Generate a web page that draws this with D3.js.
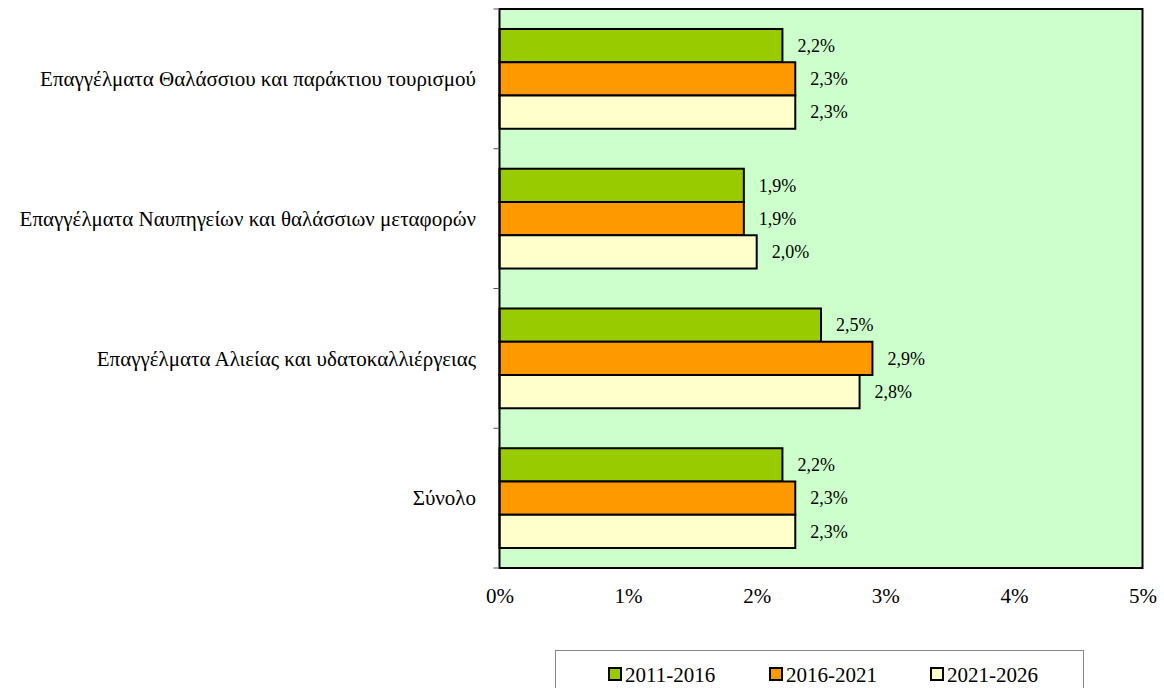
<!DOCTYPE html>
<html>
<head>
<meta charset="utf-8">
<script src="https://cdn.jsdelivr.net/npm/d3@7"></script>
<style>
  html, body { margin: 0; padding: 0; background: #fff; }
  svg text { font-family: 'Liberation Serif', 'DejaVu Serif', serif; }
</style>
</head>
<body>
<svg id="chart" width="1164" height="688"></svg>
<script>
// Occupational groups (top to bottom)
const categories = [
  "Επαγγέλματα Θαλάσσιου και παράκτιου τουρισμού",
  "Επαγγέλματα Ναυπηγείων και θαλάσσιων μεταφορών",
  "Επαγγέλματα Αλιείας και υδατοκαλλιέργειας",
  "Σύνολο"
];
// Periods shown as series
const seriesNames = ["2011-2016", "2016-2021", "2021-2026"];
// Annual rate (%) per period, one array per series, in category order
const values2011_2016 = [2.2, 1.9, 2.5, 2.2];
const values2016_2021 = [2.3, 1.9, 2.9, 2.3];
const values2021_2026 = [2.3, 2.0, 2.8, 2.3];
// Value axis ticks (%)
const xTicks = [0, 1, 2, 3, 4, 5];

const seriesValues = [values2011_2016, values2016_2021, values2021_2026];
const colors = ["#99CC00", "#FF9900", "#FFFFCC"];
const FONT = "'Liberation Serif', 'DejaVu Serif', serif";

const svg = d3.select("#chart");
const plot = { left: 499.5, right: 1142.5, top: 9, bottom: 568 };

const x = d3.scaleLinear().domain([0, 5]).range([plot.left, plot.right]);
const y = d3.scaleBand().domain(categories).range([plot.top, plot.bottom])
  .paddingInner(0.286).paddingOuter(0.143);
const ySeries = d3.scaleBand().domain(d3.range(seriesNames.length)).range([0, y.bandwidth()]);

// Plot background
svg.append("rect")
  .attr("x", plot.left).attr("y", plot.top)
  .attr("width", plot.right - plot.left).attr("height", plot.bottom - plot.top)
  .attr("fill", "#CCFFCC");

// Bars with value labels
const fmt = v => d3.format(".1f")(v).replace(".", ",") + "%";
categories.forEach((cat, ci) => {
  seriesValues.forEach((vals, si) => {
    const v = vals[ci];
    const y0 = y(cat) + ySeries(si);
    svg.append("rect")
      .attr("x", x(0)).attr("y", y0)
      .attr("width", x(v) - x(0)).attr("height", ySeries.bandwidth())
      .attr("fill", colors[si]).attr("stroke", "#000").attr("stroke-width", 2);
    svg.append("text")
      .attr("x", x(v) + 15).attr("y", y0 + ySeries.bandwidth() / 2)
      .attr("dy", "0.35em")
      .attr("font-family", FONT)
      .attr("font-size", 18)
      .attr("fill", "#000")
      .text(fmt(v));
  });
});

// Plot frame
svg.append("rect")
  .attr("x", plot.left).attr("y", plot.top)
  .attr("width", plot.right - plot.left).attr("height", plot.bottom - plot.top)
  .attr("fill", "none").attr("stroke", "#000").attr("stroke-width", 2);

// Category axis: boundary ticks and labels
svg.append("g").selectAll("line")
  .data(d3.range(categories.length + 1))
  .join("line")
  .attr("x1", plot.left - 6).attr("x2", plot.left)
  .attr("y1", i => plot.top + i * y.step())
  .attr("y2", i => plot.top + i * y.step())
  .attr("stroke", "#555").attr("stroke-width", 1);

svg.append("g").selectAll("text")
  .data(categories)
  .join("text")
  .attr("x", 476)
  .attr("y", d => y(d) + y.bandwidth() / 2)
  .attr("dy", "0.35em")
  .attr("text-anchor", "end")
  .attr("font-family", FONT)
  .attr("font-size", 21)
  .attr("fill", "#000")
  .text(d => d);

// Value axis labels
const xAxis = d3.axisBottom(x).tickValues(xTicks).tickSize(0).tickPadding(20)
  .tickFormat(d => d + "%");
const gx = svg.append("g").attr("transform", `translate(0,${plot.bottom})`).call(xAxis)
  .attr("font-family", FONT).attr("font-size", 21);
gx.select(".domain").remove();
gx.selectAll("text").attr("fill", "#000");

// Legend
const legend = svg.append("g");
legend.append("rect")
  .attr("x", 555.5).attr("y", 650.5).attr("width", 528).attr("height", 50)
  .attr("fill", "#fff").attr("stroke", "#888").attr("stroke-width", 1);
const legendX = [609, 770, 931];
seriesNames.forEach((name, i) => {
  legend.append("rect")
    .attr("x", legendX[i]).attr("y", 668).attr("width", 12).attr("height", 12)
    .attr("fill", colors[i]).attr("stroke", "#000").attr("stroke-width", 2);
  legend.append("text")
    .attr("x", legendX[i] + 16).attr("y", 682)
    .attr("font-family", FONT)
    .attr("font-size", 21).attr("fill", "#000")
    .text(name);
});
</script>
</body>
</html>
